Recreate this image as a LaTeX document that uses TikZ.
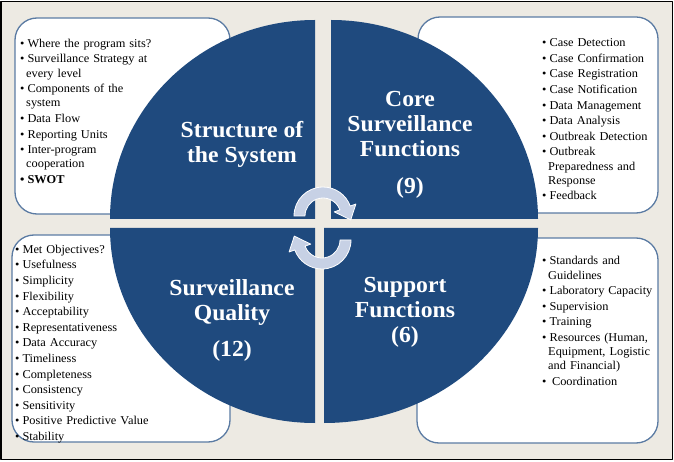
\documentclass[tikz,border=0pt]{standalone}
\usepackage{fontspec}
\setmainfont{Liberation Serif}[FakeStretch=1.03]
\definecolor{quad}{HTML}{1F4A7E}
\definecolor{paper}{HTML}{EDEAE3}
\definecolor{edge}{HTML}{5B7BA3}
\definecolor{swirl}{HTML}{C7D1E5}
\newcommand{\itm}[1]{\par\parskip=1.4pt\hangindent=6pt\hangafter=1\noindent\textbullet\hspace{3pt}#1}

\begin{document}
\begin{tikzpicture}[x=1pt,y=-1pt,line join=round,
  listbox/.style={draw=edge,fill=white,line width=1.3pt,rounded corners=22pt},
  quadrant/.style={fill=quad},
  heading/.style={text=white,align=center,inner sep=0pt,font=\fontsize{23}{25}\selectfont\bfseries},
  items/.style={anchor=north west,inner sep=0pt,text width=200pt,font=\fontsize{12}{14.2}\selectfont},
  swirlarrow/.style={fill=swirl,draw=white,line width=0.8pt}]
  \useasboundingbox (0,0) rectangle (674,462);
  \fill[white] (0,0) rectangle (674,462);
  \fill[paper,draw=black,line width=1.5pt] (1,1.5) rectangle (672.5,459.5);

  \draw[listbox] (15,18) rectangle (230,214);
  \draw[listbox] (418,17) rectangle (658,213);
  \draw[listbox] (12,235) rectangle (230,442);
  \draw[listbox] (417,238) rectangle (658,443);

  \node[items] (structlist) at (20,31.5) {\itm{Where the program sits?}\itm{Surveillance Strategy at\newline every level}\itm{Components of the\newline system}\itm{Data Flow}\itm{Reporting Units}\itm{Inter-program\newline cooperation}{\bfseries\itm{SWOT}\par}};
  \node[items] (corelist) at (542,31) {\itm{Case Detection}\itm{Case Confirmation}\itm{Case Registration}\itm{Case Notification}\itm{Data Management}\itm{Data Analysis}\itm{Outbreak Detection}\itm{Outbreak\newline Preparedness and\newline Response}\itm{Feedback}};
  \node[items] (qualitylist) at (15,237.5) {\itm{Met Objectives?}\itm{Usefulness}\itm{Simplicity}\itm{Flexibility}\itm{Acceptability}\itm{Representativeness}\itm{Data Accuracy}\itm{Timeliness}\itm{Completeness}\itm{Consistency}\itm{Sensitivity}\itm{Positive Predictive Value}\itm{Stability}};
  \node[items] (supportlist) at (542,249) {\itm{Standards and\newline Guidelines}\itm{Laboratory Capacity}\itm{Supervision}\itm{Training}\itm{Resources (Human,\newline Equipment, Logistic\newline and Financial)}\itm{\hspace{2.5pt}Coordination}};

  \fill[quadrant] (315,219) -- (110,219) arc[start angle=180,end angle=270,x radius=205,y radius=199] -- cycle;
  \fill[quadrant] (331,219) -- (331,20) arc[start angle=270,end angle=360,x radius=207,y radius=199] -- cycle;
  \fill[quadrant] (324,228) -- (538,228) arc[start angle=0,end angle=90,x radius=214,y radius=195] -- cycle;
  \fill[quadrant] (315,228) -- (315,423) arc[start angle=90,end angle=180,x radius=205,y radius=195] -- cycle;

  \node[heading] (structure) at (242,144) {Structure of\\the System};
  \node[heading] (core) at (410,145) {Core\\Surveillance\\Functions\\[12pt](9)};
  \node[heading] (quality) at (232,320) {Surveillance\\Quality\\[11pt](12)};
  \node[heading] (support) at (405,312) {Support\\Functions\\(6)};

  \draw[swirlarrow,shift={(323,216)}] (180:18) -- (180:29) arc[start angle=180,end angle=340,radius=29]
    -- (340:35) -- (8:28) -- (340:12) -- (340:18) arc[start angle=340,end angle=180,radius=18] -- cycle;
  \draw[swirlarrow,shift={(322,240)}] (0:18) -- (0:29) arc[start angle=0,end angle=160,radius=29]
    -- (160:35) -- (188:28) -- (160:12) -- (160:18) arc[start angle=160,end angle=0,radius=18] -- cycle;

\end{tikzpicture}
\end{document}
